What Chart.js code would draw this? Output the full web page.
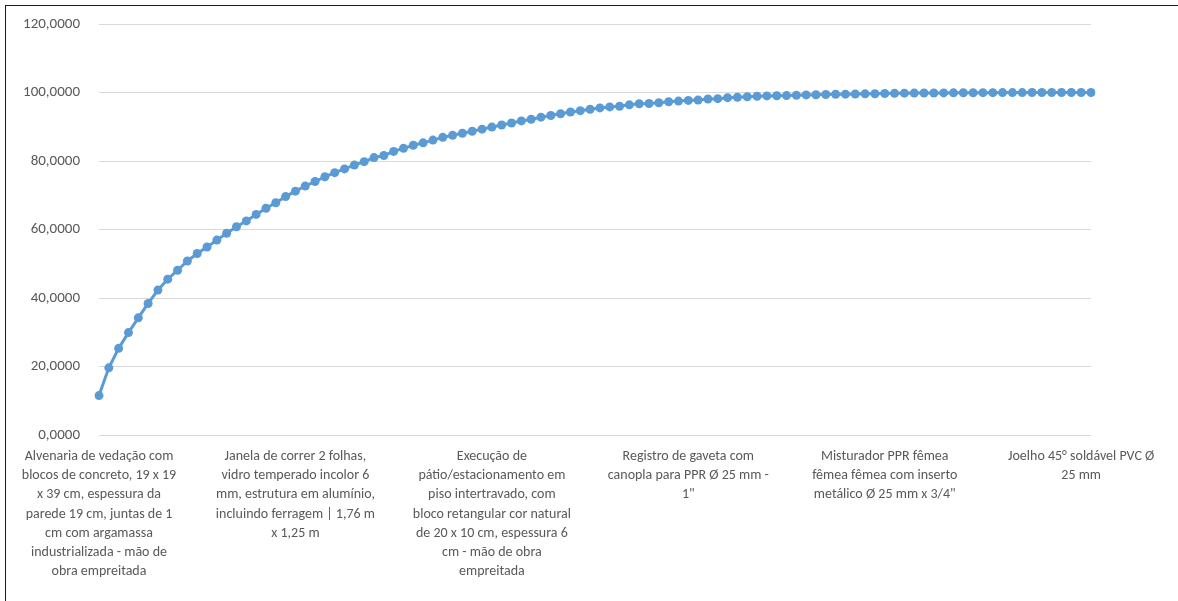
<!DOCTYPE html>
<html lang="pt-BR">
<head>
<meta charset="utf-8">
<title>Curva ABC</title>
<script src="https://cdn.jsdelivr.net/npm/chart.js@4"></script>
<style>
  html, body { margin: 0; padding: 0; background: #fff; }
  #wrap { position: relative; width: 1178px; height: 601px; overflow: hidden; }
  #frame {
    position: absolute; left: 5px; top: 5px; width: 1300px; height: 700px;
    border-top: 1px solid #1a1a1a; border-left: 1px solid #1a1a1a;
    pointer-events: none;
  }
  #chart { position: absolute; left: 0; top: 0; }
</style>
</head>
<body>
<div id="wrap">
  <canvas id="chart" width="1178" height="601"></canvas>
  <div id="frame"></div>
</div>
<script>
// Percentual acumulado por item (curva ABC), 102 itens
const cumPct = [
  11.5, 19.6, 25.3, 29.9, 34.2, 38.4, 42.3, 45.5, 48.1, 50.8,
  53.0, 54.9, 56.9, 58.9, 60.8, 62.5, 64.4, 66.2, 67.8, 69.6,
  71.2, 72.7, 74.0, 75.4, 76.6, 77.7, 78.8, 79.8, 81.0, 81.6,
  82.8, 83.7, 84.6, 85.3, 86.1, 86.9, 87.5, 88.1, 88.7, 89.3,
  89.9, 90.5, 91.1, 91.7, 92.2, 92.8, 93.3, 93.8, 94.3, 94.7,
  95.1, 95.5, 95.8, 96.0, 96.4, 96.7, 96.8, 97.0, 97.3, 97.5,
  97.7, 97.8, 98.1, 98.2, 98.5, 98.6, 98.75, 98.9, 99.0, 99.05,
  99.1, 99.2, 99.3, 99.35, 99.4, 99.5, 99.52, 99.55, 99.6, 99.65,
  99.7, 99.75, 99.8, 99.82, 99.85, 99.87, 99.89, 99.91, 99.92, 99.94,
  99.95, 99.96, 99.97, 99.98, 99.98, 99.99, 99.99, 99.99, 100, 100,
  100, 100
];

// Itens com rótulo visível no eixo (um a cada 20), já quebrados em linhas
const labelStep = 20;
const shownItems = [
  ['Alvenaria de vedação com', 'blocos de concreto, 19 x 19', 'x 39 cm, espessura da',
   'parede 19 cm, juntas de 1', 'cm com argamassa', 'industrializada - mão de', 'obra empreitada'],
  ['Janela de correr 2 folhas,', 'vidro temperado incolor 6', 'mm, estrutura em alumínio,',
   'incluindo ferragem | 1,76 m', 'x 1,25 m'],
  ['Execução de', 'pátio/estacionamento em', 'piso intertravado, com',
   'bloco retangular cor natural', 'de 20 x 10 cm, espessura 6', 'cm - mão de obra', 'empreitada'],
  ['Registro de gaveta com', 'canopla para PPR Ø 25 mm -', '1"'],
  ['Misturador PPR fêmea', 'fêmea fêmea com inserto', 'metálico Ø 25 mm x 3/4"'],
  ['Joelho 45° soldável PVC Ø', '25 mm']
];

const yTicks = { min: 0, max: 120, step: 20 };

const itemLabels = cumPct.map((_, i) => (i % labelStep === 0 ? shownItems[i / labelStep] : ''));

const blue = '#5B9BD5';
const textGray = '#595959';
const gridGray = '#D9D9D9';
const font = 'Calibri, Carlito, Lato, sans-serif';

new Chart(document.getElementById('chart'), {
  type: 'line',
  data: {
    labels: itemLabels,
    datasets: [{
      data: cumPct,
      borderColor: blue,
      backgroundColor: blue,
      borderWidth: 3,
      pointRadius: 4.5,
      pointBorderWidth: 0,
      pointBackgroundColor: blue,
      tension: 0
    }]
  },
  options: {
    responsive: false,
    animation: false,
    layout: { padding: { top: 24, right: 87, left: 0, bottom: 0 } },
    plugins: { legend: { display: false }, tooltip: { enabled: false } },
    scales: {
      x: {
        offset: false,
        grid: { display: false, drawTicks: false },
        border: { display: false },
        ticks: {
          autoSkip: false, maxRotation: 0, minRotation: 0, padding: 12,
          color: textGray,
          font: { family: font, size: 14, lineHeight: 1.37 }
        },
        afterFit: s => { s.height = 166; }
      },
      y: {
        min: yTicks.min, max: yTicks.max,
        grid: { color: gridGray, lineWidth: 1, drawTicks: false },
        border: { display: false },
        ticks: {
          stepSize: yTicks.step, padding: 19, color: textGray,
          font: { family: font, size: 15 },
          callback: v => v.toFixed(4).replace('.', ',')
        },
        // largura fixa do eixo; sem folga extra acima/abaixo da área do gráfico
        afterFit: s => { s.width = 99; s.paddingTop = 0; s.paddingBottom = 0; }
      }
    }
  }
});
</script>
</body>
</html>
